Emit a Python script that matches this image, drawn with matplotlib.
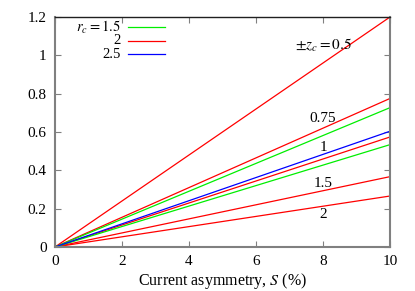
import numpy as np
import matplotlib
matplotlib.use('Agg')
import matplotlib.pyplot as plt

plt.rcParams['font.family'] = ['Liberation Serif', 'DejaVu Serif']
plt.rcParams['mathtext.fontset'] = 'stix'

# end values at S = 10 % (lines start at the origin)
S = np.array([0.0, 10.0])
red_zc = ['0.5', '0.75', '1', '1.5', '2']       # rc = 2
red_end = [1.2, 0.775, 0.574, 0.367, 0.266]
green_zc = ['0.75', '1']                         # rc = 1.5
green_end = [0.727, 0.534]
blue_zc = ['1']                                  # rc = 2.5
blue_end = [0.604]

label_pos = {'0.5': (8.0, 1.05), '0.75': (8.0, 0.67), '1': (8.0, 0.52),
             '1.5': (8.0, 0.33), '2': (8.0, 0.17)}

fig = plt.figure(figsize=(4.15, 2.91), dpi=100)
ax = fig.add_axes([0.1325, 0.1512, 0.8073, 0.7904])

for end in red_end:
    ax.plot(S, [0, end], color='#ff0000', lw=0.9)
for end in green_end:
    ax.plot(S, [0, end], color='#00ee00', lw=0.9)
for end in blue_end:
    ax.plot(S, [0, end], color='#0000ff', lw=0.9)

for zc in red_zc:
    x, y = label_pos[zc]
    txt = r'$\pm z_c = 0.5$' if zc == '0.5' else zc
    ax.text(x, y, txt, ha='center', va='center', fontsize=11)

# legend drawn by hand, gnuplot style (text right-aligned, sample to the right)
leg = [(r'$r_c = 1.5$', '#00ee00'), ('2', '#ff0000'), ('2.5', '#0000ff')]
for i, (lab, col) in enumerate(leg):
    yy = 0.955 - i * 0.059
    ax.text(0.197, yy, lab, transform=ax.transAxes, ha='right', va='center', fontsize=10.5)
    ax.plot([0.218, 0.328], [yy, yy], transform=ax.transAxes, color=col, lw=0.9)

ax.set_xlim(0, 10)
ax.set_ylim(0, 1.2)
ax.set_xticks([0, 2, 4, 6, 8, 10])
ax.set_yticks([0, 0.2, 0.4, 0.6, 0.8, 1, 1.2])
ax.set_yticklabels(['0', '0.2', '0.4', '0.6', '0.8', '1', '1.2'])
ax.tick_params(direction='in', length=4, width=0.8, color='#808080',
               top=True, right=True, labelsize=11, pad=6)
ax.set_xlabel(r'Current asymmetry, $S$ (%)', fontsize=11.5, labelpad=2)

for side in ['left', 'bottom', 'right']:
    ax.spines[side].set_color('#808080')
    ax.spines[side].set_linewidth(1.5)
ax.spines['top'].set_color('#202020')
ax.spines['top'].set_linewidth(1.0)

fig.savefig('out.png', dpi=100)
